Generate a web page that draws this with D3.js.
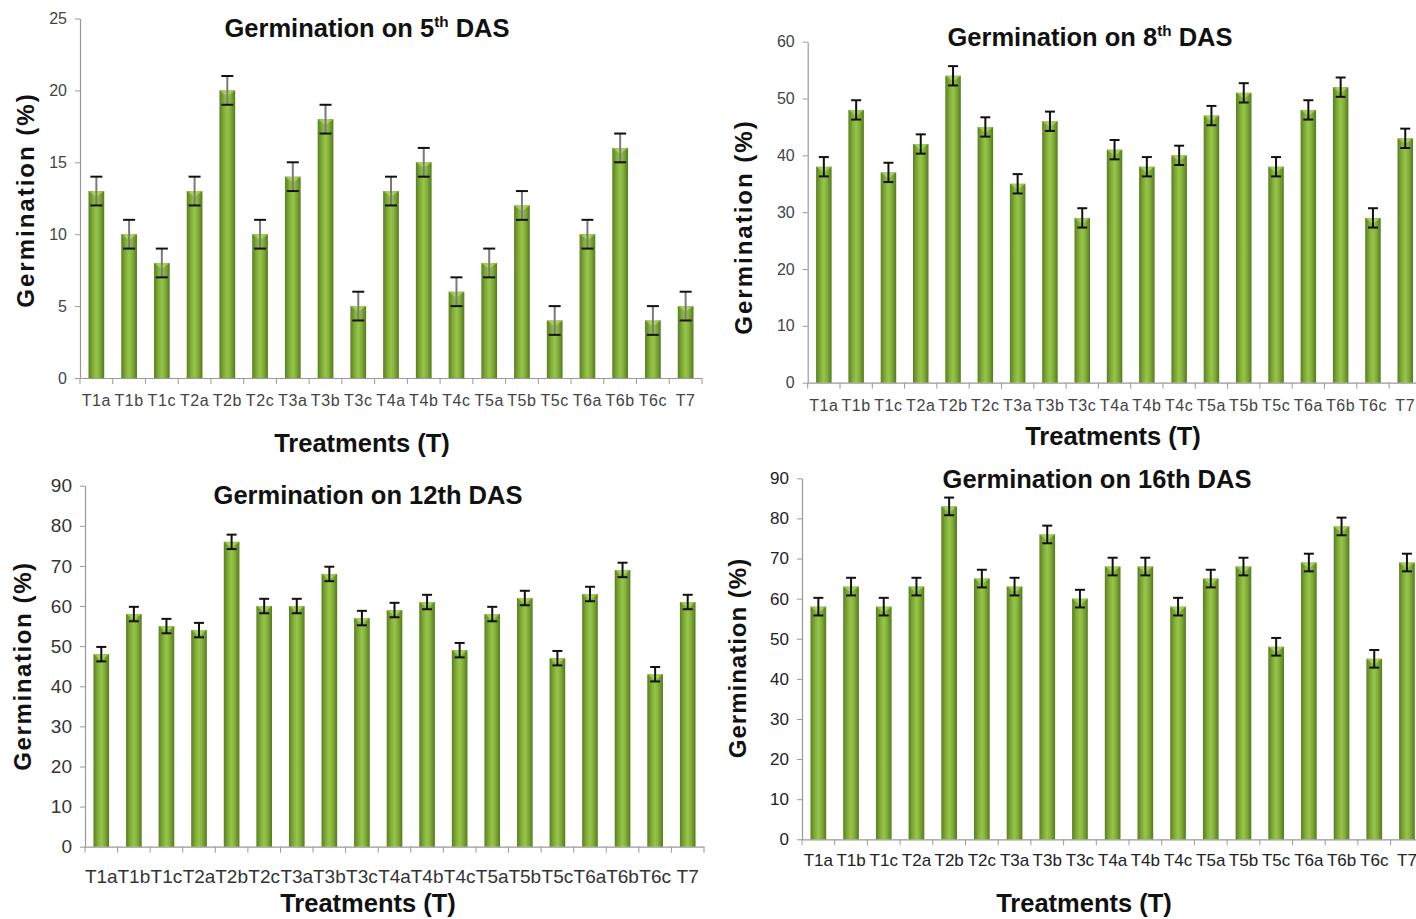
<!DOCTYPE html>
<html><head><meta charset="utf-8">
<script src="https://cdn.jsdelivr.net/npm/d3@7"></script>
<style>
html,body{margin:0;padding:0;background:#fff;}
svg{display:block;}
</style></head>
<body>
<svg id="chart" width="1416" height="919"></svg>
<script>
const treatments = ["T1a","T1b","T1c","T2a","T2b","T2c","T3a","T3b","T3c","T4a","T4b","T4c","T5a","T5b","T5c","T6a","T6b","T6c","T7"];
const das5  = [13,10,8,13,20,10,14,18,5,13,15,6,8,12,4,10,16,4,5];
const das8  = [38,48,37,42,54,45,35,46,29,41,38,40,47,51,38,48,52,29,43];
const das12 = [48,58,55,54,76,60,60,68,57,59,61,49,58,62,47,63,69,43,61];
const das16 = [58,63,58,63,83,65,63,76,60,68,68,58,65,68,48,69,78,45,69];
const err5 = 1, err8 = 1.7, err12 = 1.8, err16 = 2.2;
const ticks5 = [0,5,10,15,20,25];
const ticks8 = [0,10,20,30,40,50,60];
const ticks12 = [0,10,20,30,40,50,60,70,80,90];
const ticks16 = [0,10,20,30,40,50,60,70,80,90];

const svg = d3.select("#chart");
const defs = svg.append("defs");
const g = defs.append("linearGradient").attr("id","barGrad").attr("x1","0").attr("x2","1").attr("y1","0").attr("y2","0");
g.append("stop").attr("offset","0%").attr("stop-color","#587f20");
g.append("stop").attr("offset","30%").attr("stop-color","#84b03a");
g.append("stop").attr("offset","50%").attr("stop-color","#97c44a");
g.append("stop").attr("offset","70%").attr("stop-color","#84b03a");
g.append("stop").attr("offset","100%").attr("stop-color","#537a1e");
const gt = defs.append("linearGradient").attr("id","topGrad").attr("x1","0").attr("x2","1").attr("y1","0").attr("y2","0");
gt.append("stop").attr("offset","0%").attr("stop-color","#8cbc3c");
gt.append("stop").attr("offset","50%").attr("stop-color","#b9df6a");
gt.append("stop").attr("offset","100%").attr("stop-color","#8cbc3c");

const panels = [
  {values: das5, err: err5, ticks: ticks5, max: 25, x0: 80, x1: 702, yTop: 18.5, yBot: 378,
   title: ["Germination on 5","th"," DAS"], titleX: 367, titleY: 37, titleSize: 25.5,
   xTitleX: 362, xTitleY: 452, yTitleX: 34, yTitleY: 200, yTitleSpacing: 2,
   tickFont: 16, tickFamily: "'Liberation Sans',Arial,sans-serif", xLabelY: 406, xLabelSpacing: 0.6,
   stemColor: "#7a7a7a", stemWidth: 2, capColor: "#111", capW: 12, tickColor: "#444"},
  {values: das8, err: err8, ticks: ticks8, max: 60, x0: 807.7, x1: 807.7 + 19*32.3, yTop: 41.7, yBot: 382.7,
   title: ["Germination on 8","th"," DAS"], titleX: 1090, titleY: 46, titleSize: 25.5,
   xTitleX: 1113, xTitleY: 445, yTitleX: 752, yTitleY: 227, yTitleSpacing: 2,
   tickFont: 16, tickFamily: "'Liberation Sans',Arial,sans-serif", xLabelY: 411, xLabelSpacing: 0.6,
   stemColor: "#111", stemWidth: 2, capColor: "#111", capW: 10, tickColor: "#444"},
  {values: das12, err: err12, ticks: ticks12, max: 90, x0: 85, x1: 704, yTop: 485.7, yBot: 846.7,
   title: ["Germination on 12th DAS"], titleX: 368, titleY: 504, titleSize: 25.5,
   xTitleX: 368, xTitleY: 912, yTitleX: 31, yTitleY: 666, yTitleSpacing: 1.6,
   tickFont: 19, tickFamily: "'Liberation Sans',Arial,sans-serif", xLabelY: 883, xLabelSpacing: 0,
   stemColor: "#111", stemWidth: 2, capColor: "#111", capW: 10, tickColor: "#333"},
  {values: das16, err: err16, ticks: ticks16, max: 90, x0: 802, x1: 802 + 19*32.7, yTop: 478.3, yBot: 839.3,
   title: ["Germination on 16th DAS"], titleX: 1097, titleY: 488, titleSize: 25.5,
   xTitleX: 1084, xTitleY: 912, yTitleX: 746, yTitleY: 658, yTitleSpacing: 1,
   tickFont: 17, tickFamily: "'Liberation Sans',Arial,sans-serif", xLabelY: 866, xLabelSpacing: 0,
   stemColor: "#111", stemWidth: 2, capColor: "#111", capW: 10, tickColor: "#222"}
];

panels.forEach(p => {
  const root = svg.append("g");
  const x = d3.scaleBand().domain(treatments).range([p.x0, p.x1]).padding(0);
  const y = d3.scaleLinear().domain([0, p.max]).range([p.yBot, p.yTop]);
  const bw = x.bandwidth() * 0.48;

  const ya = root.append("g").attr("transform", `translate(${p.x0},0)`)
    .call(d3.axisLeft(y).tickValues(p.ticks).tickSize(5).tickPadding(8).tickSizeOuter(0));
  ya.select(".domain").attr("stroke", "#999").attr("stroke-width", 1.2);
  ya.selectAll(".tick line").attr("stroke", "#999");
  ya.selectAll(".tick text").attr("font-family", p.tickFamily).attr("font-size", p.tickFont).attr("fill", p.tickColor);

  const xa = root.append("g").attr("transform", `translate(0,${p.yBot})`)
    .call(d3.axisBottom(x).tickSize(0).tickPadding(0).tickSizeOuter(0));
  xa.select(".domain").attr("stroke", "#999").attr("stroke-width", 1.2);
  xa.selectAll(".tick text").remove();
  const bounds = treatments.map(d => x(d)).concat([x(treatments[treatments.length-1]) + x.bandwidth()]);
  root.append("g").selectAll("line").data(bounds).join("line")
    .attr("x1", d => d).attr("x2", d => d).attr("y1", p.yBot).attr("y2", p.yBot + 6)
    .attr("stroke", "#999").attr("stroke-width", 1);
  root.append("g").selectAll("text").data(treatments).join("text")
    .attr("x", d => x(d) + x.bandwidth()/2).attr("y", p.xLabelY)
    .attr("text-anchor", "middle").attr("font-family", p.tickFamily).attr("font-size", p.tickFont)
    .attr("letter-spacing", p.xLabelSpacing).attr("fill", p.tickColor).text(d => d);

  const bars = root.append("g");
  bars.selectAll("rect.bar").data(p.values).join("rect").attr("class","bar")
    .attr("x", (d,i) => x(treatments[i]) + (x.bandwidth()-bw)/2)
    .attr("y", d => y(d)).attr("width", bw).attr("height", d => p.yBot - y(d))
    .attr("fill", "url(#barGrad)");
  bars.selectAll("path.top").data(p.values).join("path").attr("class","top")
    .attr("d", (d,i) => {
      const l = x(treatments[i]) + (x.bandwidth()-bw)/2, t = y(d);
      return `M${l},${t}L${l+bw},${t}L${l+bw*0.5},${t+6}Z`;
    })
    .attr("fill", "url(#topGrad)").attr("opacity", 0.9);

  const eb = root.append("g");
  p.values.forEach((v,i) => {
    const cx = x(treatments[i]) + x.bandwidth()/2;
    eb.append("line").attr("x1", cx).attr("x2", cx).attr("y1", y(v + p.err)).attr("y2", y(v - p.err))
      .attr("stroke", p.stemColor).attr("stroke-width", p.stemWidth);
    [v + p.err, v - p.err].forEach(e => {
      eb.append("line").attr("x1", cx - p.capW/2).attr("x2", cx + p.capW/2).attr("y1", y(e)).attr("y2", y(e))
        .attr("stroke", p.capColor).attr("stroke-width", 2);
    });
  });

  const t = root.append("text").attr("x", p.titleX).attr("y", p.titleY).attr("text-anchor", "middle")
    .attr("font-family", "'Liberation Sans',Arial,sans-serif").attr("font-weight", "bold").attr("font-size", p.titleSize).attr("fill", "#111");
  if (p.title.length === 3) {
    t.append("tspan").text(p.title[0]);
    t.append("tspan").attr("font-size", p.titleSize*0.6).attr("dy", -10).text(p.title[1]);
    t.append("tspan").attr("dy", 10).text(p.title[2]);
  } else {
    t.text(p.title[0]);
  }
  root.append("text").attr("x", p.xTitleX).attr("y", p.xTitleY).attr("text-anchor", "middle")
    .attr("font-family", "'Liberation Sans',Arial,sans-serif").attr("font-weight", "bold").attr("font-size", 25.5).attr("fill", "#111")
    .text("Treatments (T)");
  root.append("text").attr("transform", `translate(${p.yTitleX},${p.yTitleY}) rotate(-90)`).attr("text-anchor", "middle")
    .attr("font-family", "'Liberation Sans',Arial,sans-serif").attr("font-weight", "bold").attr("font-size", 24)
    .attr("letter-spacing", p.yTitleSpacing).attr("fill", "#111")
    .text("Germination (%)");
});
</script>
</body></html>
